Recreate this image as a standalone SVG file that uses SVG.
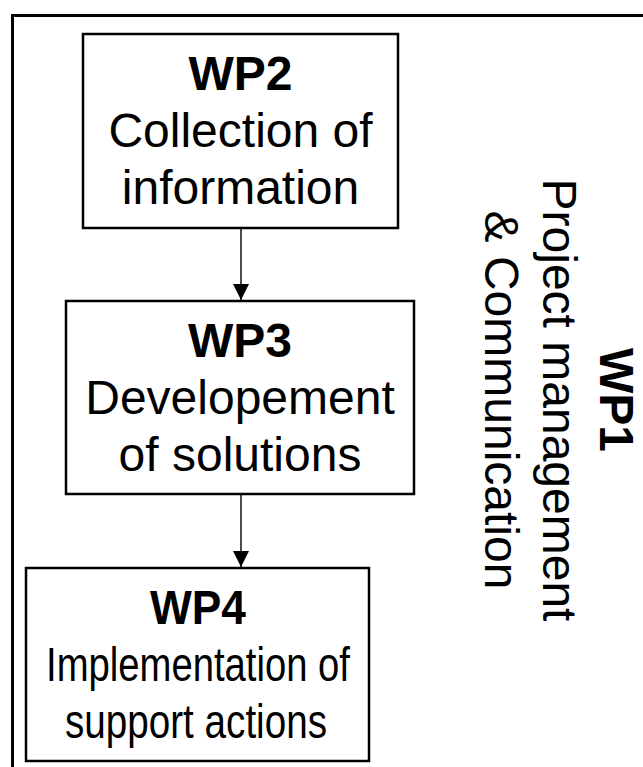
<svg xmlns="http://www.w3.org/2000/svg" width="643" height="767" viewBox="0 0 643 767">
<style>
  .box{fill:#fff;stroke:#000;stroke-width:2.5}
  .t{font-family:"Liberation Sans",Arial,sans-serif;font-size:48px;fill:#000;text-anchor:middle}
  .b{font-weight:bold}
  .conn{stroke:#000;stroke-width:1.4;fill:none}
</style>
<defs>
  <marker id="ah" markerUnits="userSpaceOnUse" markerWidth="16" markerHeight="16" viewBox="0 0 16 16" refX="16" refY="8" orient="auto">
    <path d="M0,0 L16,8 L0,16 Z" fill="#000"/>
  </marker>
</defs>
<rect width="643" height="767" fill="#fff"/>
<g id="wp1">
  <rect x="12.5" y="15.5" width="700" height="800" fill="none" stroke="#000" stroke-width="3"/>
  <text class="t b" transform="translate(600,400) rotate(90)">WP1</text>
  <text class="t" transform="translate(543,400) rotate(90)">Project management</text>
  <text class="t" transform="translate(485,400) rotate(90)">&amp; Communication</text>
</g>
<g id="wp2">
  <rect class="box" x="83" y="34" width="315" height="194"/>
  <text class="t b" x="240.5" y="90">WP2</text>
  <text class="t" x="240.5" y="147">Collection of</text>
  <text class="t" x="240.5" y="204">information</text>
</g>
<g id="wp3">
  <rect class="box" x="66" y="301" width="348" height="193"/>
  <text class="t b" x="240" y="357">WP3</text>
  <text class="t" x="240" y="414">Developement</text>
  <text class="t" x="240" y="471">of solutions</text>
</g>
<g id="wp4">
  <rect class="box" x="26" y="568" width="343" height="193"/>
  <text class="t b" x="198" y="624" textLength="96" lengthAdjust="spacingAndGlyphs">WP4</text>
  <text class="t" x="198" y="681" textLength="304" lengthAdjust="spacingAndGlyphs">Implementation of</text>
  <text class="t" x="196" y="738" textLength="262" lengthAdjust="spacingAndGlyphs">support actions</text>
</g>
<g id="connectors">
  <line class="conn" x1="241" y1="228" x2="241" y2="300" marker-end="url(#ah)"/>
  <line class="conn" x1="241" y1="494" x2="241" y2="567" marker-end="url(#ah)"/>
</g>
</svg>
